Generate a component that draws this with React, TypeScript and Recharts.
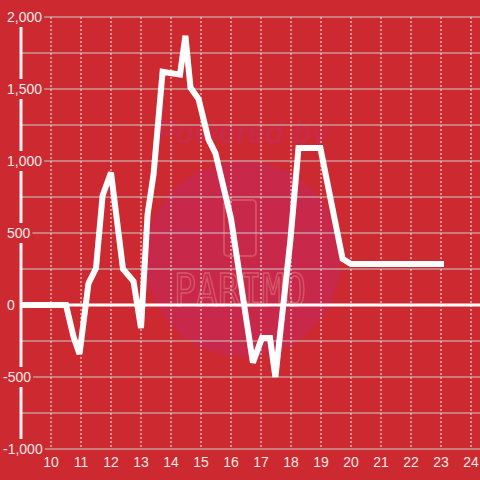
import { LineChart, Line, XAxis, YAxis, CartesianGrid, ReferenceLine } from 'recharts';

const BG = '#cc2a30';
const INK = '#f3e8e8';

// hour of day -> value
const hours = [
  9, 10.5, 10.75, 10.95, 11.25, 11.5, 11.72, 12, 12.4, 12.75, 13, 13.22, 13.42, 13.72,
  14.3, 14.48, 14.65, 14.92, 15.25, 15.48, 16, 16.73, 17.03, 17.3, 17.48, 17.98, 18.25,
  18.98, 19.72, 20, 23,
];
const values = [
  0, 0, -220, -340, 150, 255, 760, 920, 250, 165, -160, 630, 910, 1620,
  1600, 1870, 1510, 1430, 1150, 1055, 600, -400, -230, -230, -500, 450, 1090,
  1090, 320, 285, 285,
];

const yTicks = [-1000, -500, 0, 500, 1000, 1500, 2000];
const yGrid = [-1000, -750, -500, -250, 0, 250, 500, 750, 1000, 1250, 1500, 1750, 2000];
const xTicks = [10, 11, 12, 13, 14, 15, 16, 17, 18, 19, 20, 21, 22, 23, 24];

const data = hours.map((h, i) => ({ h, v: values[i] }));

function fmt(v: number) {
  return v.toLocaleString('en-US');
}

// rough Arial 14px widths, used for the label backing box
function labelWidth(s: string) {
  let w = 0;
  for (const c of s) w += c === ',' ? 3.9 : c === '-' ? 4.7 : 7.8;
  return w;
}

function YTick(props: any) {
  const { y, payload } = props;
  const label = fmt(payload.value);
  const x0 = payload.value < 0 ? 3 : 7;
  return (
    <g>
      <rect x={0} y={y - 10} width={x0 + labelWidth(label) + 2} height={20} fill={BG} />
      <text x={x0} y={y} dy={5} fill={INK} fontSize={14} textAnchor="start"
        fontFamily="'Liberation Sans', Arial, sans-serif">
        {label}
      </text>
    </g>
  );
}

function Watermark() {
  return (
    <svg width={480} height={480} style={{ position: 'absolute', left: 0, top: 0 }}>
      <circle cx={243} cy={259} r={98} fill="#c8284a" />
      <text x={242} y={143} textAnchor="middle" fontSize={31} fontStyle="italic" fontWeight="bold"
        fill="#c92a48" fontFamily="'Liberation Sans', Arial, sans-serif">
        Powered by
      </text>
      <rect x={224} y={200} width={32} height={56} rx={4} fill="none" stroke="#d4505f" strokeWidth={2} />
      <text x={174} y={306} fontSize={44} textLength={132} lengthAdjust="spacingAndGlyphs"
        fill="none" stroke="#d65a6a" strokeWidth={1.5}
        fontFamily="'DejaVu Sans Mono', monospace">
        PARIMO
      </text>
    </svg>
  );
}

export default function App() {
  return (
    <div style={{ position: 'absolute', left: 0, top: 0, width: 480, height: 480, background: BG }}>
      <Watermark />
      <div style={{ position: 'absolute', left: 0, top: 0 }}>
        <LineChart width={480} height={480} data={data}
          margin={{ top: 17, right: 0, bottom: 0, left: 0 }}>
          <CartesianGrid vertical={false} horizontalValues={yGrid} stroke="#c9c9c9" strokeWidth={1} />
          <CartesianGrid horizontal={false} verticalValues={xTicks} stroke="#eeeeee"
            strokeWidth={1} strokeDasharray="2 2" />
          <ReferenceLine y={0} stroke="#ffffff" strokeWidth={3} />
          <XAxis dataKey="h" type="number" domain={[9, 24.3]} ticks={xTicks} allowDataOverflow
            axisLine={false} tickLine={false} height={31} interval={0}
            tick={{ fill: INK, fontSize: 14, fontFamily: "'Liberation Sans', Arial, sans-serif" }} />
          <YAxis type="number" domain={[-1000, 2000]} ticks={yTicks} width={21} interval={0}
            axisLine={{ stroke: '#f2f2f2', strokeWidth: 3 }} tickLine={false} tick={YTick} />
          <Line type="linear" dataKey="v" stroke="#ffffff" strokeWidth={6} dot={false}
            strokeLinecap="square" activeDot={false} isAnimationActive={false} />
        </LineChart>
      </div>
    </div>
  );
}
